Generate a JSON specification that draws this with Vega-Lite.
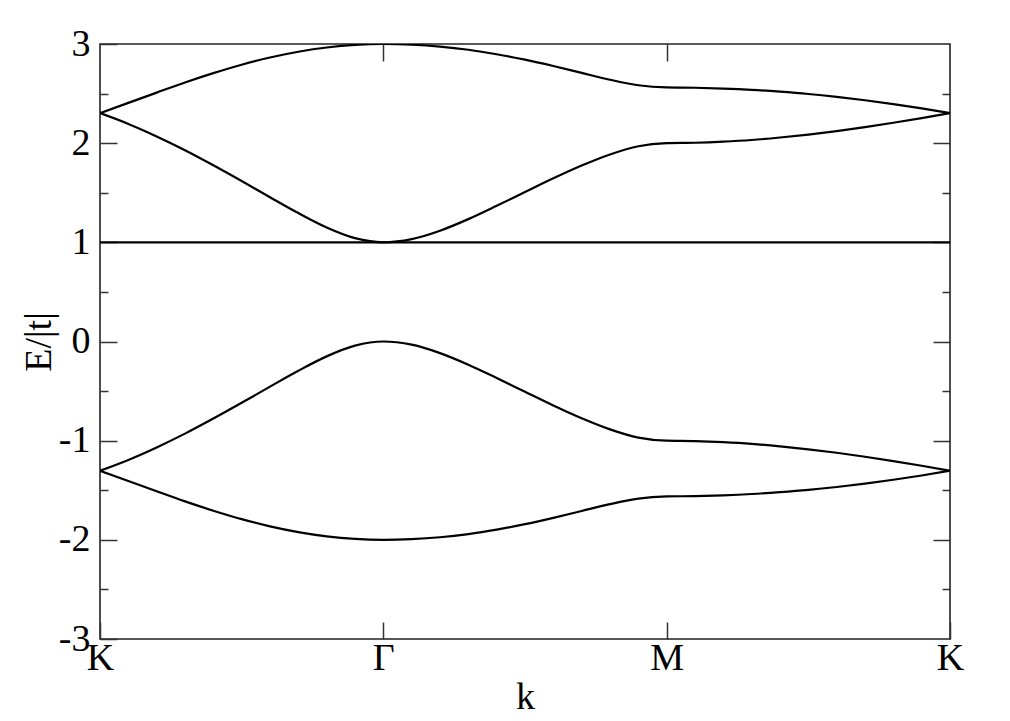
{
  "$schema": "https://vega.github.io/schema/vega-lite/v6.json",
  "width": 850,
  "height": 595,
  "autosize": {"type": "none"},
  "padding": {"left": 100, "top": 44, "right": 60, "bottom": 82},
  "background": "white",
  "datasets": {
    "A": [
      {"x": 0, "E": 2.303}, {"x": 0.1, "E": 2.406}, {"x": 0.2, "E": 2.510}, {"x": 0.3, "E": 2.612}, {"x": 0.4, "E": 2.706},
      {"x": 0.5, "E": 2.791}, {"x": 0.6, "E": 2.864}, {"x": 0.7, "E": 2.922}, {"x": 0.8, "E": 2.965}, {"x": 0.9, "E": 2.991},
      {"x": 1.0, "E": 3.000}, {"x": 1.1, "E": 2.993}, {"x": 1.2, "E": 2.974}, {"x": 1.3, "E": 2.942}, {"x": 1.4, "E": 2.897},
      {"x": 1.5, "E": 2.842}, {"x": 1.6, "E": 2.778}, {"x": 1.7, "E": 2.709}, {"x": 1.8, "E": 2.640}, {"x": 1.9, "E": 2.584},
      {"x": 2.0, "E": 2.562}, {"x": 2.1, "E": 2.559}, {"x": 2.2, "E": 2.551}, {"x": 2.3, "E": 2.538}, {"x": 2.4, "E": 2.519},
      {"x": 2.5, "E": 2.496}, {"x": 2.6, "E": 2.467}, {"x": 2.7, "E": 2.433}, {"x": 2.8, "E": 2.394}, {"x": 2.9, "E": 2.351},
      {"x": 3.0, "E": 2.303}
    ],
    "B": [
      {"x": 0, "E": 2.303}, {"x": 0.1, "E": 2.194}, {"x": 0.2, "E": 2.068}, {"x": 0.3, "E": 1.929}, {"x": 0.4, "E": 1.777},
      {"x": 0.5, "E": 1.618}, {"x": 0.6, "E": 1.455}, {"x": 0.7, "E": 1.295}, {"x": 0.8, "E": 1.150}, {"x": 0.9, "E": 1.042},
      {"x": 1.0, "E": 1.000}, {"x": 1.1, "E": 1.032}, {"x": 1.2, "E": 1.117}, {"x": 1.3, "E": 1.234}, {"x": 1.4, "E": 1.368},
      {"x": 1.5, "E": 1.507}, {"x": 1.6, "E": 1.645}, {"x": 1.7, "E": 1.774}, {"x": 1.8, "E": 1.886}, {"x": 1.9, "E": 1.969},
      {"x": 2.0, "E": 2.000}, {"x": 2.1, "E": 2.004}, {"x": 2.2, "E": 2.015}, {"x": 2.3, "E": 2.032}, {"x": 2.4, "E": 2.057},
      {"x": 2.5, "E": 2.087}, {"x": 2.6, "E": 2.122}, {"x": 2.7, "E": 2.162}, {"x": 2.8, "E": 2.206}, {"x": 2.9, "E": 2.253},
      {"x": 3.0, "E": 2.303}
    ],
    "C": [
      {"x": 0, "E": -1.303}, {"x": 0.1, "E": -1.194}, {"x": 0.2, "E": -1.068}, {"x": 0.3, "E": -0.929}, {"x": 0.4, "E": -0.777},
      {"x": 0.5, "E": -0.618}, {"x": 0.6, "E": -0.455}, {"x": 0.7, "E": -0.295}, {"x": 0.8, "E": -0.150}, {"x": 0.9, "E": -0.042},
      {"x": 1.0, "E": 0.000}, {"x": 1.1, "E": -0.032}, {"x": 1.2, "E": -0.117}, {"x": 1.3, "E": -0.234}, {"x": 1.4, "E": -0.368},
      {"x": 1.5, "E": -0.507}, {"x": 1.6, "E": -0.645}, {"x": 1.7, "E": -0.774}, {"x": 1.8, "E": -0.886}, {"x": 1.9, "E": -0.969},
      {"x": 2.0, "E": -1.000}, {"x": 2.1, "E": -1.004}, {"x": 2.2, "E": -1.015}, {"x": 2.3, "E": -1.032}, {"x": 2.4, "E": -1.057},
      {"x": 2.5, "E": -1.087}, {"x": 2.6, "E": -1.122}, {"x": 2.7, "E": -1.162}, {"x": 2.8, "E": -1.206}, {"x": 2.9, "E": -1.253},
      {"x": 3.0, "E": -1.303}
    ],
    "D": [
      {"x": 0, "E": -1.303}, {"x": 0.1, "E": -1.406}, {"x": 0.2, "E": -1.510}, {"x": 0.3, "E": -1.612}, {"x": 0.4, "E": -1.706},
      {"x": 0.5, "E": -1.791}, {"x": 0.6, "E": -1.864}, {"x": 0.7, "E": -1.922}, {"x": 0.8, "E": -1.965}, {"x": 0.9, "E": -1.991},
      {"x": 1.0, "E": -2.000}, {"x": 1.1, "E": -1.993}, {"x": 1.2, "E": -1.974}, {"x": 1.3, "E": -1.942}, {"x": 1.4, "E": -1.897},
      {"x": 1.5, "E": -1.842}, {"x": 1.6, "E": -1.778}, {"x": 1.7, "E": -1.709}, {"x": 1.8, "E": -1.640}, {"x": 1.9, "E": -1.584},
      {"x": 2.0, "E": -1.562}, {"x": 2.1, "E": -1.559}, {"x": 2.2, "E": -1.551}, {"x": 2.3, "E": -1.538}, {"x": 2.4, "E": -1.519},
      {"x": 2.5, "E": -1.496}, {"x": 2.6, "E": -1.467}, {"x": 2.7, "E": -1.433}, {"x": 2.8, "E": -1.394}, {"x": 2.9, "E": -1.351},
      {"x": 3.0, "E": -1.303}
    ],
    "F": [
      {"x": 0, "E": 1}, {"x": 3, "E": 1}
    ]
  },
  "layer": [
    {
      "data": {"name": "A"},
      "mark": {"type": "line", "color": "black", "strokeWidth": 2.2, "interpolate": "monotone", "clip": true},
      "encoding": {
        "x": {"field": "x", "type": "quantitative", "scale": {"domain": [0, 3], "nice": false, "zero": false},
          "axis": {"orient": "bottom", "values": [0, 1, 2, 3], "tickSize": -17, "labelPadding": 17, "labelFlush": false,
            "labelExpr": "['K','Γ','M','K'][datum.value]", "title": "k", "titlePadding": 1}},
        "y": {"field": "E", "type": "quantitative", "scale": {"domain": [-3, 3], "nice": false, "zero": false},
          "axis": {"orient": "left", "values": [-3, -2, -1, 0, 1, 2, 3], "tickSize": -17, "labelPadding": 27, "labelFlush": false,
            "labelExpr": "'' + datum.value", "title": "E/|t|", "titlePadding": 0}}
      }
    },
    {
      "data": {"name": "B"},
      "mark": {"type": "line", "color": "black", "strokeWidth": 2.2, "interpolate": "monotone", "clip": true},
      "encoding": {
        "x": {"field": "x", "type": "quantitative", "scale": {"domain": [0, 3], "nice": false, "zero": false},
          "axis": {"orient": "top", "values": [1, 2], "tickSize": -17, "labels": false, "title": null}},
        "y": {"field": "E", "type": "quantitative", "scale": {"domain": [-3, 3], "nice": false, "zero": false},
          "axis": {"orient": "left", "values": [-2.5, -1.5, -0.5, 0.5, 1.5, 2.5], "tickSize": -8, "labels": false, "title": null}}
      }
    },
    {
      "data": {"name": "C"},
      "mark": {"type": "line", "color": "black", "strokeWidth": 2.2, "interpolate": "monotone", "clip": true},
      "encoding": {
        "x": {"field": "x", "type": "quantitative", "scale": {"domain": [0, 3], "nice": false, "zero": false}, "axis": null},
        "y": {"field": "E", "type": "quantitative", "scale": {"domain": [-3, 3], "nice": false, "zero": false},
          "axis": {"orient": "right", "values": [-2, -1, 0, 1, 2], "tickSize": -17, "labels": false, "title": null}}
      }
    },
    {
      "data": {"name": "D"},
      "mark": {"type": "line", "color": "black", "strokeWidth": 2.2, "interpolate": "monotone", "clip": true},
      "encoding": {
        "x": {"field": "x", "type": "quantitative", "scale": {"domain": [0, 3], "nice": false, "zero": false}, "axis": null},
        "y": {"field": "E", "type": "quantitative", "scale": {"domain": [-3, 3], "nice": false, "zero": false},
          "axis": {"orient": "right", "values": [-2.5, -1.5, -0.5, 0.5, 1.5, 2.5], "tickSize": -8, "labels": false, "title": null}}
      }
    },
    {
      "data": {"name": "F"},
      "mark": {"type": "line", "color": "black", "strokeWidth": 2.2, "clip": true},
      "encoding": {
        "x": {"field": "x", "type": "quantitative", "scale": {"domain": [0, 3], "nice": false, "zero": false}, "axis": null},
        "y": {"field": "E", "type": "quantitative", "scale": {"domain": [-3, 3], "nice": false, "zero": false}, "axis": null}
      }
    }
  ],
  "resolve": {"axis": {"x": "independent", "y": "independent"}},
  "config": {
    "view": {"stroke": "#222", "strokeWidth": 1.6},
    "axis": {
      "grid": false, "domain": false,
      "labelFont": "Liberation Serif", "labelFontSize": 38, "labelColor": "black",
      "titleFont": "Liberation Serif", "titleFontSize": 38, "titleFontWeight": "normal", "titleColor": "black",
      "tickColor": "#333", "tickWidth": 1.5
    }
  }
}
